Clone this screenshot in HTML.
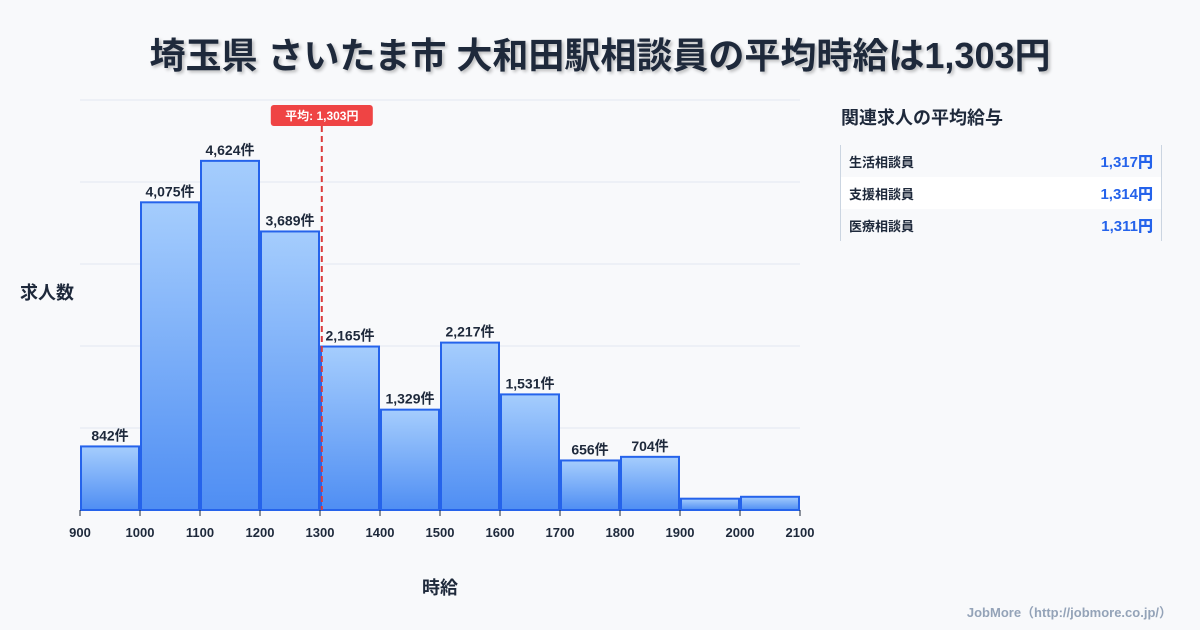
<!DOCTYPE html>
<html><head><meta charset="utf-8"><style>
body{margin:0;width:1200px;height:630px;background:#f8f9fb;font-family:"Liberation Sans","Noto Sans CJK JP",sans-serif;overflow:hidden;position:relative}
.t{position:absolute;left:0;width:1200px;top:27px;text-align:center;font-size:36px;font-weight:bold;color:#1e293b;text-shadow:2px 2px 3px rgba(0,0,0,0.25)}
.side{position:absolute;left:841px;top:104px;font-size:18px;font-weight:bold;color:#1e293b}
.tbl{position:absolute;left:840px;top:145px;width:320px;border-left:1px solid #cbd5e1;border-right:1px solid #cbd5e1}
.row{height:32px;display:flex;justify-content:space-between;align-items:center;padding:0 8px 0 8px;font-size:13px;font-weight:bold;color:#1e293b}
.row b{color:#2563eb;font-size:15px}
.foot{position:absolute;right:28px;top:602px;font-size:13px;font-weight:bold;color:#94a3b8}
</style></head><body>
<div class="t">埼玉県 さいたま市 大和田駅相談員の平均時給は1,303円</div>
<svg id="c" width="1200" height="630" style="position:absolute;left:0;top:0">
<defs><linearGradient id="g" x1="0" y1="0" x2="0" y2="1"><stop offset="0" stop-color="#a5cdfd"/><stop offset="1" stop-color="#4f8ef3"/></linearGradient></defs>
</svg>
<div class="side">関連求人の平均給与</div>
<div class="tbl">
<div class="row"><span>生活相談員</span><b>1,317円</b></div>
<div class="row" style="background:#fff"><span>支援相談員</span><b>1,314円</b></div>
<div class="row"><span>医療相談員</span><b>1,311円</b></div>
</div>
<div class="foot">JobMore（http://jobmore.co.jp/）</div>
<script>
const binStarts=[900,1000,1100,1200,1300,1400,1500,1600,1700,1800,1900,2000];
const counts=[842,4075,4624,3689,2165,1329,2217,1531,656,704,150,175];
const labels=["842件","4,075件","4,624件","3,689件","2,165件","1,329件","2,217件","1,531件","656件","704件","",""];
const xTicks=[900,1000,1100,1200,1300,1400,1500,1600,1700,1800,1900,2000,2100];
const avg=1303;
const avgLabel="平均: 1,303円";
const svg=document.getElementById('c');const NS="http://www.w3.org/2000/svg";
const X0=80,X1=800,Y0=510,Y1=100,YMAX=5430;
const x=v=>X0+(v-900)/1200*(X1-X0);
const y=v=>Y0-v/YMAX*(Y0-Y1);
function mk(t,a,txt){const e=document.createElementNS(NS,t);for(const k in a)e.setAttribute(k,a[k]);if(txt!=null)e.textContent=txt;svg.appendChild(e);return e;}
for(let i=0;i<=5;i++){const gy=Y0-i*(Y0-Y1)/5;const l=mk('line',{x1:X0,x2:X1,y1:gy,y2:gy,stroke:'#e2e8f0','stroke-width':1});

}
binStarts.forEach((s,i)=>{const r=mk('rect',{x:x(s)+1,y:y(counts[i]),width:x(s+100)-x(s)-2,height:Y0-y(counts[i]),fill:'url(#g)',stroke:'#2563eb','stroke-width':2});


if(labels[i]){const t=mk('text',{x:(x(s)+x(s+100))/2,y:y(counts[i])-6,'text-anchor':'middle','font-size':14,'font-weight':'bold',fill:'#1e293b'},labels[i]);

}});
xTicks.forEach(v=>{const l=mk('line',{x1:x(v),x2:x(v),y1:Y0,y2:Y0+6,stroke:'#1e293b'});


const t=mk('text',{x:x(v),y:Y0+27,'text-anchor':'middle','font-size':13,'font-weight':'bold',fill:'#1e293b'},v);

});
const al=mk('line',{x1:x(avg),x2:x(avg),y1:126,y2:Y0,stroke:'#dc3b3b','stroke-width':2,'stroke-dasharray':'6,4'});


const ab=mk('rect',{x:x(avg)-51,y:105,width:102,height:21,rx:3,fill:'#ef4444'});


const at=mk('text',{x:x(avg),y:120,'text-anchor':'middle','font-size':12,'font-weight':'bold',fill:'#fff'},avgLabel);


const yt=mk('text',{x:20,y:299,'font-size':18,'font-weight':'bold',fill:'#1e293b'},'求人数');


const xt=mk('text',{x:440,y:594,'text-anchor':'middle','font-size':18,'font-weight':'bold',fill:'#1e293b'},'時給');


</script>
</body></html>
